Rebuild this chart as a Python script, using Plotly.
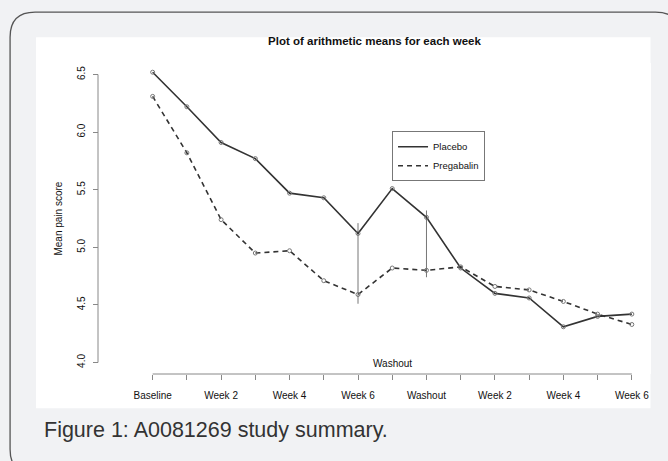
import plotly.graph_objects as go

# ---- data ----
week_index = list(range(15))
tick_labels = ["Baseline", "", "Week 2", "", "Week 4", "", "Week 6", "",
               "Washout", "", "Week 2", "", "Week 4", "", "Week 6"]
placebo = [6.52, 6.22, 5.91, 5.77, 5.47, 5.43, 5.12, 5.51, 5.26, 4.82,
           4.60, 4.56, 4.31, 4.40, 4.42]
pregabalin = [6.31, 5.82, 5.24, 4.95, 4.97, 4.71, 4.59, 4.82, 4.80, 4.83,
              4.66, 4.63, 4.53, 4.42, 4.33]
seg_x = [6, 8]
seg_low = [4.51, 4.74]
seg_high = [5.21, 5.32]
y_ticks = [4.0, 4.5, 5.0, 5.5, 6.0, 6.5]
series_names = ["Placebo", "Pregabalin"]

# ---- layout geometry (pixels) ----
W, H = 668, 461
ML, MR, MT, MB = 98, 16.5, 62.8, 87.2
PW = W - ML - MR
PH = H - MT - MB


def px(xp):
    return (xp - ML) / PW


def py(yp):
    return (H - MB - yp) / PH


FONT = "Liberation Sans, Arial, Helvetica, sans-serif"
LINE_C = "#333333"
DASH = "5px,4px"

fig = go.Figure()

seg_xs, seg_ys = [], []
for xv, lo, hi in zip(seg_x, seg_low, seg_high):
    seg_xs += [xv, xv, None]
    seg_ys += [lo, hi, None]
fig.add_trace(go.Scatter(x=seg_xs, y=seg_ys, mode="lines",
                         line=dict(color="#777777", width=1),
                         showlegend=False, hoverinfo="skip"))

for vals, dash, name in [(placebo, "solid", series_names[0]),
                         (pregabalin, DASH, series_names[1])]:
    fig.add_trace(go.Scatter(
        x=week_index, y=vals, name=name, mode="lines+markers",
        line=dict(color=LINE_C, width=1.6, dash=dash),
        marker=dict(symbol="circle-open", size=4, color="#777777",
                    line=dict(width=1, color="#777777")),
        cliponaxis=False, showlegend=False, legendgroup=name))
    # legend entry (line only, as in the original)
    fig.add_trace(go.Scatter(
        x=[None], y=[None], name=name, mode="lines",
        line=dict(color=LINE_C, width=1.6, dash=dash),
        showlegend=True, legendgroup=name))

d0 = px(152.7 - 0.56 * 34.26)
fig.update_layout(
    width=W, height=H,
    margin=dict(l=ML, r=MR, t=MT, b=MB, pad=0),
    paper_bgcolor="#f1f2f4",
    plot_bgcolor="white",
    font=dict(family=FONT, size=10, color="#111111"),
    title=dict(text="<b>Plot of arithmetic means for each week</b>",
               xref="container", yref="container",
               x=374.5 / W, y=1 - 41 / H, xanchor="center", yanchor="middle",
               font=dict(family=FONT, size=11.5, color="#111111")),
    xaxis=dict(domain=[d0, 1], range=[-0.56, 14.56], anchor="y",
               showgrid=False, zeroline=False, showline=False,
               tickmode="array", tickvals=week_index, ticktext=tick_labels,
               ticks="outside", ticklen=5, tickwidth=1, tickcolor="#888888",
               ticklabelstandoff=7, automargin=False,
               tickfont=dict(family=FONT, size=10, color="#111111")),
    yaxis=dict(domain=[0, 1], range=[3.9, 6.6], anchor="free", position=0,
               showgrid=False, zeroline=False, showline=False,
               tickmode="array", tickvals=y_ticks,
               ticktext=[f"{v:.1f}" for v in y_ticks],
               tickangle=-90, ticks="outside", ticklen=5, tickwidth=1,
               tickcolor="#888888", ticklabelstandoff=4, automargin=False,
               tickfont=dict(family=FONT, size=10, color="#111111")),
    legend=dict(x=px(392.3), y=py(131), xanchor="left", yanchor="top",
                bgcolor="white", bordercolor="#777777", borderwidth=1,
                font=dict(family=FONT, size=9.5, color="#111111"),
                tracegroupgap=0, itemwidth=30),
    showlegend=True,
)

# page decoration: rounded frame, white figure panel
r = 25
L, T, R, B = 10, 12, 681, 474
path = (f"M {px(L)},{py(B - r)} L {px(L)},{py(T + r)} "
        f"Q {px(L)},{py(T)} {px(L + r)},{py(T)} "
        f"L {px(R - r)},{py(T)} Q {px(R)},{py(T)} {px(R)},{py(T + r)} "
        f"L {px(R)},{py(B - r)} Q {px(R)},{py(B)} {px(R - r)},{py(B)} "
        f"L {px(L + r)},{py(B)} Q {px(L)},{py(B)} {px(L)},{py(B - r)} Z")
shapes = [
    dict(type="path", xref="paper", yref="paper", path=path,
         line=dict(color="#555555", width=1.3), fillcolor="rgba(0,0,0,0)",
         layer="below"),
    dict(type="rect", xref="paper", yref="paper",
         x0=px(36), x1=px(651), y0=py(408), y1=py(37),
         line=dict(width=0), fillcolor="white", layer="below"),
    # detached R-style axis lines
    dict(type="line", xref="paper", yref="y", x0=0, x1=0, y0=4.0, y1=6.5,
         line=dict(color="#888888", width=1)),
    dict(type="line", xref="x", yref="paper", x0=0, x1=14, y0=0, y1=0,
         line=dict(color="#888888", width=1)),
]
fig.update_layout(shapes=shapes)

fig.add_annotation(text="Washout", x=7, xref="x", y=py(363.3), yref="paper",
                   showarrow=False, xanchor="center", yanchor="middle",
                   font=dict(family=FONT, size=10, color="#111111"))
fig.add_annotation(text="Mean pain score", x=px(58), xref="paper",
                   y=5.25, yref="y", textangle=-90, showarrow=False,
                   xanchor="center", yanchor="middle",
                   font=dict(family=FONT, size=10, color="#111111"))
fig.add_annotation(text="Figure 1: A0081269 study summary.", x=px(42),
                   xref="paper", y=py(429.3), yref="paper", showarrow=False,
                   xanchor="left", yanchor="middle",
                   font=dict(family=FONT, size=21.5, color="#333333"))

fig.write_html(
    "out.html",
    config={"displayModeBar": False},
    post_script="document.body.style.margin='0';"
                "document.body.style.overflow='hidden';",
)
